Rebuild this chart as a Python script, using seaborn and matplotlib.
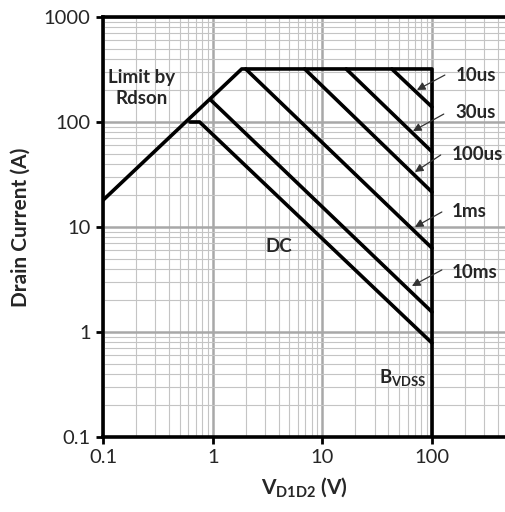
import numpy as np
import pandas as pd
import matplotlib
matplotlib.use('Agg')
import matplotlib.pyplot as plt
import matplotlib.ticker as mticker
import seaborn as sns

# safe operating area curves (V, A)
boundary_v = [0.1, 1.84, 100, 100]
boundary_i = [18, 320, 320, 0.1]
dc_v = [0.62, 0.76, 100]
dc_i = [100, 100, 0.785]
ms10_v = [0.96, 100]
ms10_i = [162, 1.55]
ms1_v = [2.0, 100]
ms1_i = [320, 6.3]
us100_v = [6.9, 100]
us100_i = [320, 21.5]
us30_v = [16.5, 100]
us30_i = [320, 52]
us10_v = [43, 100]
us10_i = [320, 139]

x_ticks = [0.1, 1, 10, 100]
x_labels = ['0.1', '1', '10', '100']
y_ticks = [0.1, 1, 10, 100, 1000]
y_labels = ['0.1', '1', '10', '100', '1000']

# curve labels: text, label pos, arrow tail, arrow head
pulse_labels = ['10us', '30us', '100us', '1ms', '10ms']
label_pos = [(166, 280), (164, 122), (152, 49.5), (152, 14.2), (152, 3.72)]
arrow_tail = [(131, 280), (128, 119), (120, 48.5), (123, 13.9), (123, 3.9)]
arrow_head = [(72.8, 202), (67, 82), (69.8, 33.4), (69.8, 10), (65.6, 2.74)]

curves = {
    'boundary': (boundary_v, boundary_i),
    'DC': (dc_v, dc_i),
    '10ms': (ms10_v, ms10_i),
    '1ms': (ms1_v, ms1_i),
    '100us': (us100_v, us100_i),
    '30us': (us30_v, us30_i),
    '10us': (us10_v, us10_i),
}
rows = []
for name, (vs, cs) in curves.items():
    for k, (v, c) in enumerate(zip(vs, cs)):
        rows.append({'curve': name, 'order': k, 'V': v, 'I': c})
df = pd.DataFrame(rows)

sns.set_style('white')
plt.rcParams['font.family'] = ['Lato', 'DejaVu Sans']
plt.rcParams['mathtext.fontset'] = 'custom'
plt.rcParams['mathtext.rm'] = 'Lato'
plt.rcParams['mathtext.bf'] = 'Lato:bold'

fig = plt.figure(figsize=(5.06, 5.12), dpi=100)
ax = fig.add_axes([0.2036, 0.1465, 0.7964, 0.8203])

ax.set_xscale('log')
ax.set_yscale('log')
ax.set_xlim(0.1, 473)
ax.set_ylim(0.1, 1000)

ax.xaxis.set_minor_locator(mticker.LogLocator(base=10, subs=np.arange(2, 10)))
ax.yaxis.set_minor_locator(mticker.LogLocator(base=10, subs=np.arange(2, 10)))
ax.grid(which='minor', color='#c4c4c4', lw=0.8)
ax.grid(which='major', color='#a8a8a8', lw=1.8)
ax.set_axisbelow(True)

sns.lineplot(data=df, x='V', y='I', units='curve', estimator=None, sort=False,
             color='black', lw=2.6, ax=ax, legend=False)

ax.set_xticks(x_ticks)
ax.set_xticklabels(x_labels)
ax.set_yticks(y_ticks)
ax.set_yticklabels(y_labels)
ax.xaxis.set_minor_formatter(mticker.NullFormatter())
ax.yaxis.set_minor_formatter(mticker.NullFormatter())
ax.tick_params(which='major', direction='out', length=5, width=2, color='black',
               labelsize=14.5, bottom=True, left=True, pad=4)
ax.tick_params(which='minor', length=0)

for side in ['left', 'bottom', 'top']:
    ax.spines[side].set_color('black')
    ax.spines[side].set_linewidth(2.6)
ax.spines['right'].set_visible(False)

ax.set_ylabel('Drain Current (A)', fontsize=15, fontweight='bold', labelpad=9)
ax.set_xlabel(r'$\mathbf{V_{D1D2}}$ (V)', fontsize=15, fontweight='bold', labelpad=6)

ax.text(0.226, 211, 'Limit by\nRdson', ha='center', va='center', fontsize=13.5,
        fontweight='bold', linespacing=1.25)
ax.text(4.0, 6.45, 'DC', ha='center', va='center', fontsize=13.5, fontweight='bold')
ax.text(32.8, 0.365, r'B$_{\mathbf{VDSS}}$', ha='left', va='center', fontsize=13.5,
        fontweight='bold')

for lab, pos, tail, head in zip(pulse_labels, label_pos, arrow_tail, arrow_head):
    ax.text(pos[0], pos[1], lab, ha='left', va='center', fontsize=13.5, fontweight='bold')
    ax.annotate('', xy=head, xytext=tail,
                arrowprops=dict(arrowstyle='-|>', color='#333333', lw=0.9,
                                mutation_scale=12, shrinkA=0, shrinkB=0))

fig.savefig('out.png', dpi=100)
